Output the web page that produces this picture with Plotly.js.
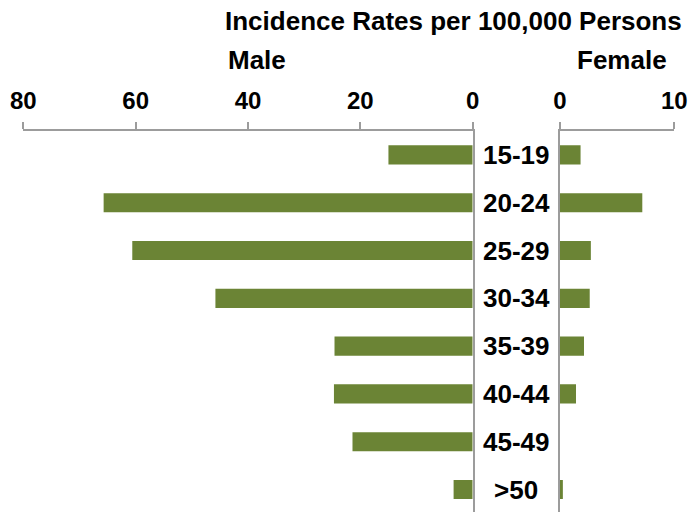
<!DOCTYPE html>
<html>
<head>
<meta charset="utf-8">
<script src="https://cdn.plot.ly/plotly-3.0.1.min.js"></script>
<style>html,body{margin:0;padding:0;background:#fff;}#chart{width:691px;height:512px;}</style>
</head>
<body>
<div id="chart"></div>
<script>
const categories = ["15-19", "20-24", "25-29", "30-34", "35-39", "40-44", "45-49", ">50"];
const maleRates = [15.0, 65.7, 60.6, 45.8, 24.6, 24.7, 21.4, 3.4];
const femaleRates = [1.8, 7.2, 2.7, 2.6, 2.1, 1.4, 0, 0.25];
const maleTicks = [0, 20, 40, 60, 80];
const femaleTicks = [0, 10];

const W = 691, H = 512;
const plotTop = 131;
const fam = "Liberation Sans, Arial, sans-serif";
const barColor = "#6b8435";
const lineColor = "#9c9c9c";
const py = p => (H - p) / (H - plotTop);

const axisCommon = {
  side: "top", ticks: "outside", ticklen: 7, tickwidth: 2, tickcolor: lineColor,
  showline: true, linecolor: lineColor, linewidth: 2, showgrid: false, zeroline: false,
  ticklabelstandoff: 3,
  tickfont: {family: fam, size: 24, color: "#000", weight: "bold"}, fixedrange: true
};
const yCommon = {
  type: "category", categoryorder: "array", categoryarray: categories,
  range: [7.47, -0.5], showticklabels: false, ticks: "", showgrid: false, zeroline: false,
  showline: true, linecolor: lineColor, linewidth: 2, fixedrange: true
};

const data = [
  {type: "bar", orientation: "h", x: maleRates, y: categories, xaxis: "x", yaxis: "y",
   marker: {color: barColor}, width: 0.4, hoverinfo: "none"},
  {type: "bar", orientation: "h", x: femaleRates, y: categories, xaxis: "x2", yaxis: "y2",
   marker: {color: barColor}, width: 0.4, hoverinfo: "none"}
];

const annotations = categories.map(c => ({
  xref: "paper", yref: "y", x: 516.3 / W, y: c, text: c, showarrow: false,
  xanchor: "center", yanchor: "middle",
  font: {family: fam, size: 26, color: "#000", weight: "bold"}
}));
annotations.push(
  {xref: "paper", yref: "paper", x: 453.3 / W, y: py(21), text: "Incidence Rates per 100,000 Persons",
   showarrow: false, xanchor: "center", yanchor: "middle",
   font: {family: fam, size: 26, color: "#000", weight: "bold"}},
  {xref: "paper", yref: "paper", x: 257 / W, y: py(60), text: "Male",
   showarrow: false, xanchor: "center", yanchor: "middle",
   font: {family: fam, size: 26, color: "#000", weight: "bold"}},
  {xref: "paper", yref: "paper", x: 621.7 / W, y: py(60), text: "Female",
   showarrow: false, xanchor: "center", yanchor: "middle",
   font: {family: fam, size: 26, color: "#000", weight: "bold"}}
);

const layout = {
  width: W, height: H,
  margin: {l: 0, r: 0, t: plotTop, b: 0, pad: 0},
  paper_bgcolor: "#fff", plot_bgcolor: "#fff",
  showlegend: false,
  xaxis: Object.assign({}, axisCommon, {domain: [23.3 / W, 472.7 / W], range: [80, 0], tickvals: maleTicks, anchor: "y"}),
  yaxis: Object.assign({}, yCommon, {anchor: "x", side: "right"}),
  xaxis2: Object.assign({}, axisCommon, {domain: [560 / W, 674.3 / W], range: [0, 10], tickvals: femaleTicks, anchor: "y2"}),
  yaxis2: Object.assign({}, yCommon, {anchor: "x2", side: "left"}),
  annotations: annotations
};

Plotly.newPlot("chart", data, layout, {displayModeBar: false, staticPlot: true});
</script>
</body>
</html>
